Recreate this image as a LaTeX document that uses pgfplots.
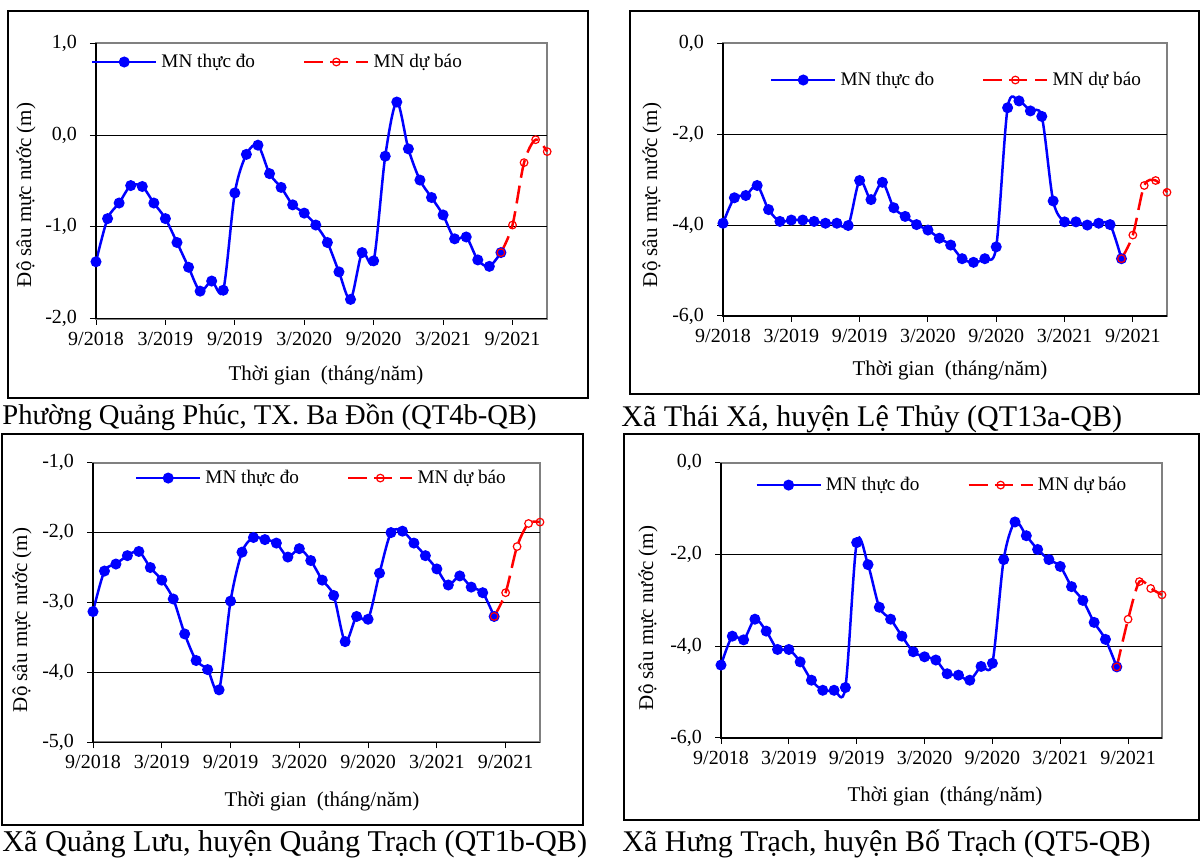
\documentclass[border=0pt]{standalone}
\usepackage{fontspec}
\setmainfont{Liberation Serif}
\usepackage{pgfplots}
\pgfplotsset{compat=1.18}

\pgfplotsset{
  gw/.style={
    scale only axis,
    xmin=0, xmax=39,
    xtick={0,6,12,18,24,30,36},
    xticklabels={9/2018,3/2019,9/2019,3/2020,9/2020,3/2021,9/2021},
    tick align=outside,
    tick pos=left,
    major tick length=3pt,
    tick style={black, line width=0.5pt},
    axis line style={draw=gray, line width=1pt},
    ticklabel style={font=\fontsize{10}{12}\selectfont},
    yticklabel style={xshift=-3pt},
    clip=false,
    legend columns=2,
    legend cell align=left,
    legend style={draw=none, fill=none, inner sep=0pt, anchor=west,
      font=\fontsize{9.6}{12}\selectfont,
      /tikz/every even column/.append style={column sep=22pt}},
    legend image code/.code={\draw[mark repeat=2,mark phase=2] plot coordinates {(0pt,0pt) (16pt,0pt) (32pt,0pt)};},
    extra y tick labels={},
    extra y tick style={grid=major, major grid style={black, line width=0.5pt}, tick style={draw=none}},
  },
  obs/.style={blue, line width=1.25pt, smooth, mark=*, mark size=2.1pt, mark options={solid, fill=blue}},
  fc/.style={red, line width=1.25pt, smooth, dash pattern=on 9pt off 4pt, mark=o, mark size=1.9pt, mark options={solid, line width=0.6pt}},
}
\newcommand\edges{\draw[black, line width=0.6pt] (rel axis cs:0,1) -- (rel axis cs:0,0) -- (rel axis cs:1,0);}

\begin{document}
\begin{tikzpicture}
\useasboundingbox (0,0) rectangle (600pt,430pt);
\begin{scope}[x=0.5pt,y=-0.5pt,yshift=430pt]
  \coordinate (a1) at (96,318.7);
  \coordinate (a2) at (723,316);
  \coordinate (a3) at (93,742.3);
  \coordinate (a4) at (721,738);
  % frames
  \draw[line width=0.6pt] (8,11) rectangle (588,398);
  \draw[line width=0.6pt] (630,11) rectangle (1199,394);
  \draw[line width=0.6pt] (2,434) rectangle (583,825);
  \draw[line width=0.6pt] (624,434) rectangle (1199,820);
  % captions
  \begin{scope}[every node/.style={anchor=base west, inner sep=0pt}]
    \node[font=\fontsize{14.3}{17}\selectfont] at (2,425) {Phường Quảng Phúc, TX. Ba Đồn (QT4b-QB)};
    \node[font=\fontsize{15}{17}\selectfont] at (621,427) {Xã Thái Xá, huyện Lệ Thủy (QT13a-QB)};
    \node[font=\fontsize{15.1}{17}\selectfont] at (2,852) {Xã Quảng Lưu, huyện Quảng Trạch (QT1b-QB)};
    \node[font=\fontsize{15}{17}\selectfont] at (622,852) {Xã Hưng Trạch, huyện Bố Trạch (QT5-QB)};
  \end{scope}
  % axis titles
  \begin{scope}[every node/.style={inner sep=0pt, font=\fontsize{10.5}{12}\selectfont}]
    \node[rotate=90] at (26,195) {Độ sâu mực nước (m)};
    \node[rotate=90] at (652,195) {Độ sâu mực nước (m)};
    \node[rotate=90] at (22,620) {Độ sâu mực nước (m)};
    \node[rotate=90] at (648,618) {Độ sâu mực nước (m)};
    \node at (326,375) {Thời gian\ \ (tháng/năm)};
    \node at (950,370) {Thời gian\ \ (tháng/năm)};
    \node at (322,801) {Thời gian\ \ (tháng/năm)};
    \node at (945,796) {Thời gian\ \ (tháng/năm)};
  \end{scope}
\end{scope}

% QT4b-QB
\begin{axis}[gw, at={(a1)}, anchor=south west, width=225.6pt, height=137.7pt,
  ymin=-2, ymax=1, ytick={-2,-1,0,1}, yticklabels={{-2,0},{-1,0},{0,0},{1,0}},
  extra y ticks={-1,0},
  legend style={at={(-0.012,0.932)}}]
\addplot[obs] coordinates {
  (0,-1.38) (1,-0.91) (2,-0.74) (3,-0.55) (4,-0.56) (5,-0.74) (6,-0.91) (7,-1.17)
  (8,-1.44) (9,-1.70) (10,-1.59) (11,-1.69) (12,-0.63) (13,-0.21) (14,-0.11) (15,-0.42)
  (16,-0.57) (17,-0.76) (18,-0.85) (19,-0.98) (20,-1.17) (21,-1.49) (22,-1.79) (23,-1.28)
  (24,-1.37) (25,-0.23) (26,0.36) (27,-0.15) (28,-0.49) (29,-0.68) (30,-0.87) (31,-1.13)
  (32,-1.11) (33,-1.36) (34,-1.43) (35,-1.28)};
\addplot[fc] coordinates {(35,-1.28) (36,-0.98) (37,-0.30) (38,-0.05) (39,-0.18)};
\legend{MN thực đo, MN dự báo}
\edges
\end{axis}

% QT13a-QB
\begin{axis}[gw, at={(a2)}, anchor=south west, width=222pt, height=136.4pt,
  ymin=-6, ymax=0, ytick={-6,-4,-2,0}, yticklabels={{-6,0},{-4,0},{-2,0},{0,0}},
  extra y ticks={-4,-2},
  legend style={at={(0.105,0.865)}}]
\addplot[obs] coordinates {
  (0,-3.96) (1,-3.40) (2,-3.35) (3,-3.13) (4,-3.66) (5,-3.92) (6,-3.89) (7,-3.89)
  (8,-3.92) (9,-3.96) (10,-3.96) (11,-4.01) (12,-3.02) (13,-3.44) (14,-3.06) (15,-3.62)
  (16,-3.81) (17,-3.99) (18,-4.11) (19,-4.29) (20,-4.44) (21,-4.74) (22,-4.82) (23,-4.74)
  (24,-4.48) (25,-1.42) (26,-1.27) (27,-1.49) (28,-1.61) (29,-3.47) (30,-3.93) (31,-3.93)
  (32,-4.00) (33,-3.96) (34,-3.99) (35,-4.74)};
\addplot[fc] coordinates {(35,-4.74) (36,-4.22) (37,-3.13) (38,-3.02) (39,-3.28)};
\legend{MN thực đo, MN dự báo}
\edges
\end{axis}

% QT1b-QB
\begin{axis}[gw, at={(a3)}, anchor=south west, width=223.5pt, height=139.8pt,
  ymin=-5, ymax=-1, ytick={-5,-4,-3,-2,-1}, yticklabels={{-5,0},{-4,0},{-3,0},{-2,0},{-1,0}},
  extra y ticks={-4,-3,-2},
  legend style={at={(0.093,0.945)}}]
\addplot[obs] coordinates {
  (0,-3.13) (1,-2.55) (2,-2.45) (3,-2.33) (4,-2.27) (5,-2.50) (6,-2.68) (7,-2.95)
  (8,-3.45) (9,-3.83) (10,-3.96) (11,-4.25) (12,-2.98) (13,-2.28) (14,-2.07) (15,-2.10)
  (16,-2.15) (17,-2.35) (18,-2.23) (19,-2.40) (20,-2.68) (21,-2.90) (22,-3.56) (23,-3.20)
  (24,-3.24) (25,-2.58) (26,-2.00) (27,-1.98) (28,-2.15) (29,-2.33) (30,-2.52) (31,-2.75)
  (32,-2.62) (33,-2.78) (34,-2.86) (35,-3.20)};
\addplot[fc] coordinates {(35,-3.20) (36,-2.86) (37,-2.20) (38,-1.87) (39,-1.85)};
\legend{MN thực đo, MN dự báo}
\edges
\end{axis}

% QT5-QB
\begin{axis}[gw, at={(a4)}, anchor=south west, width=220.5pt, height=137.6pt,
  ymin=-6, ymax=0, ytick={-6,-4,-2,0}, yticklabels={{-6,0},{-4,0},{-2,0},{0,0}},
  extra y ticks={-4,-2},
  legend style={at={(0.077,0.919)}}]
\addplot[obs] coordinates {
  (0,-4.41) (1,-3.78) (2,-3.86) (3,-3.41) (4,-3.67) (5,-4.07) (6,-4.07) (7,-4.34)
  (8,-4.74) (9,-4.96) (10,-4.96) (11,-4.90) (12,-1.74) (13,-2.22) (14,-3.15) (15,-3.41)
  (16,-3.78) (17,-4.12) (18,-4.23) (19,-4.30) (20,-4.60) (21,-4.63) (22,-4.74) (23,-4.44)
  (24,-4.37) (25,-2.11) (26,-1.29) (27,-1.59) (28,-1.89) (29,-2.11) (30,-2.26) (31,-2.70)
  (32,-3.00) (33,-3.48) (34,-3.85) (35,-4.45)};
\addplot[fc] coordinates {(35,-4.45) (36,-3.41) (37,-2.59) (38,-2.74) (39,-2.88)};
\legend{MN thực đo, MN dự báo}
\edges
\end{axis}
\end{tikzpicture}
\end{document}
